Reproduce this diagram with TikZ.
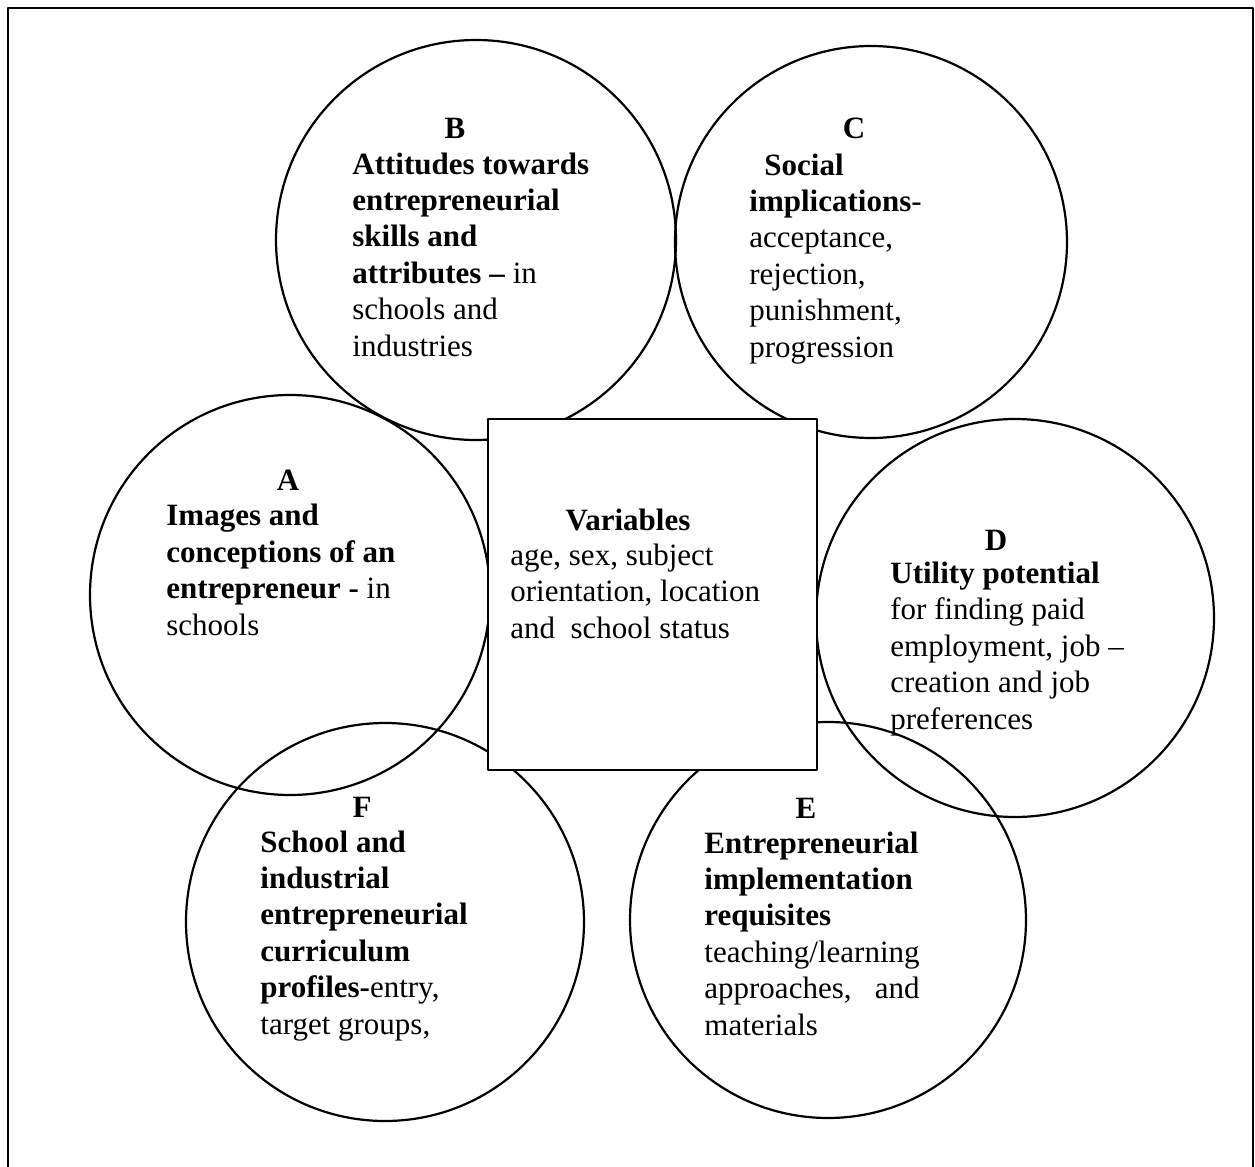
\documentclass[tikz,border=0pt]{standalone}
\usepackage{fontspec}
\setmainfont{Liberation Serif}
\tikzset{
  ring/.style={draw, circle, line width=1.1pt, inner sep=0pt, outer sep=0pt},
  varbox/.style={draw, fill=white, line width=1.4pt, inner sep=0pt},
  tag/.style={font=\bfseries, inner sep=0pt},
  blurb/.style={align=left, anchor=base west, inner sep=0pt},
}
\begin{document}
\begin{tikzpicture}[x=0.5pt, y=-0.5pt, line cap=round, line join=round]
  \useasboundingbox (0,0) rectangle (1255,1167);
  \fontsize{15.5}{18.2}\selectfont
  % the frame round the whole page
  \draw[line width=0.6pt] (8,1170) -- (8,8) -- (1253,8) -- (1253,1170);
  % the six circles
  \foreach \name/\cx/\cy/\d in {A/290/595/200, B/476/240/200, C/871/242/196,
                                D/1015/618/199, E/828/920/198, F/385/922/199} {
    \node[ring, minimum size=\d pt] (circ\name) at (\cx,\cy) {};
  }
  % the box in the middle, over the circles
  \node[varbox, minimum width=164.5pt, minimum height=175.5pt] (vars) at (652.5,594.5) {};
  % the letters
  \foreach \name/\lx/\ly in {A/288/490, B/455/138, C/854/138,
                             D/996/550, E/806/818, F/362/817} {
    \node[tag, anchor=base] (tag\name) at (\lx,\ly) {\name};
  }
  % the texts (placed by the baseline of their last line)
  \node[blurb] (txtA) at (166,635) {\textbf{Images and}\\\textbf{conceptions of an}\\\textbf{entrepreneur -} in\\schools};
  \node[blurb] (txtB) at (352,356) {\textbf{Attitudes towards}\\\textbf{entrepreneurial}\\\textbf{skills and}\\\textbf{attributes --} in\\schools and\\industries};
  \node[blurb] (txtC) at (749,357) {\hspace*{7.5pt}\textbf{Social}\\\textbf{implications}-\\acceptance,\\rejection,\\punishment,\\progression};
  \node[blurb] (txtD) at (890,729) {\textbf{Utility potential}\\for finding paid\\employment, job --\\creation and job\\preferences};
  \node[blurb] (txtE) at (704,1035) {\textbf{Entrepreneurial}\\\textbf{implementation}\\\textbf{requisites}\\teaching/learning\\approaches,\ \ \ and\\materials};
  \node[blurb] (txtF) at (260,1034) {\textbf{School and}\\\textbf{industrial}\\\textbf{entrepreneurial}\\\textbf{curriculum}\\\textbf{profiles-}entry,\\target groups,};
  \node[tag, anchor=base] (varhead) at (628,530) {Variables};
  \node[blurb] (txtV) at (510,638) {age, sex, subject\\orientation, location\\and\ \ school status};
\end{tikzpicture}
\end{document}
